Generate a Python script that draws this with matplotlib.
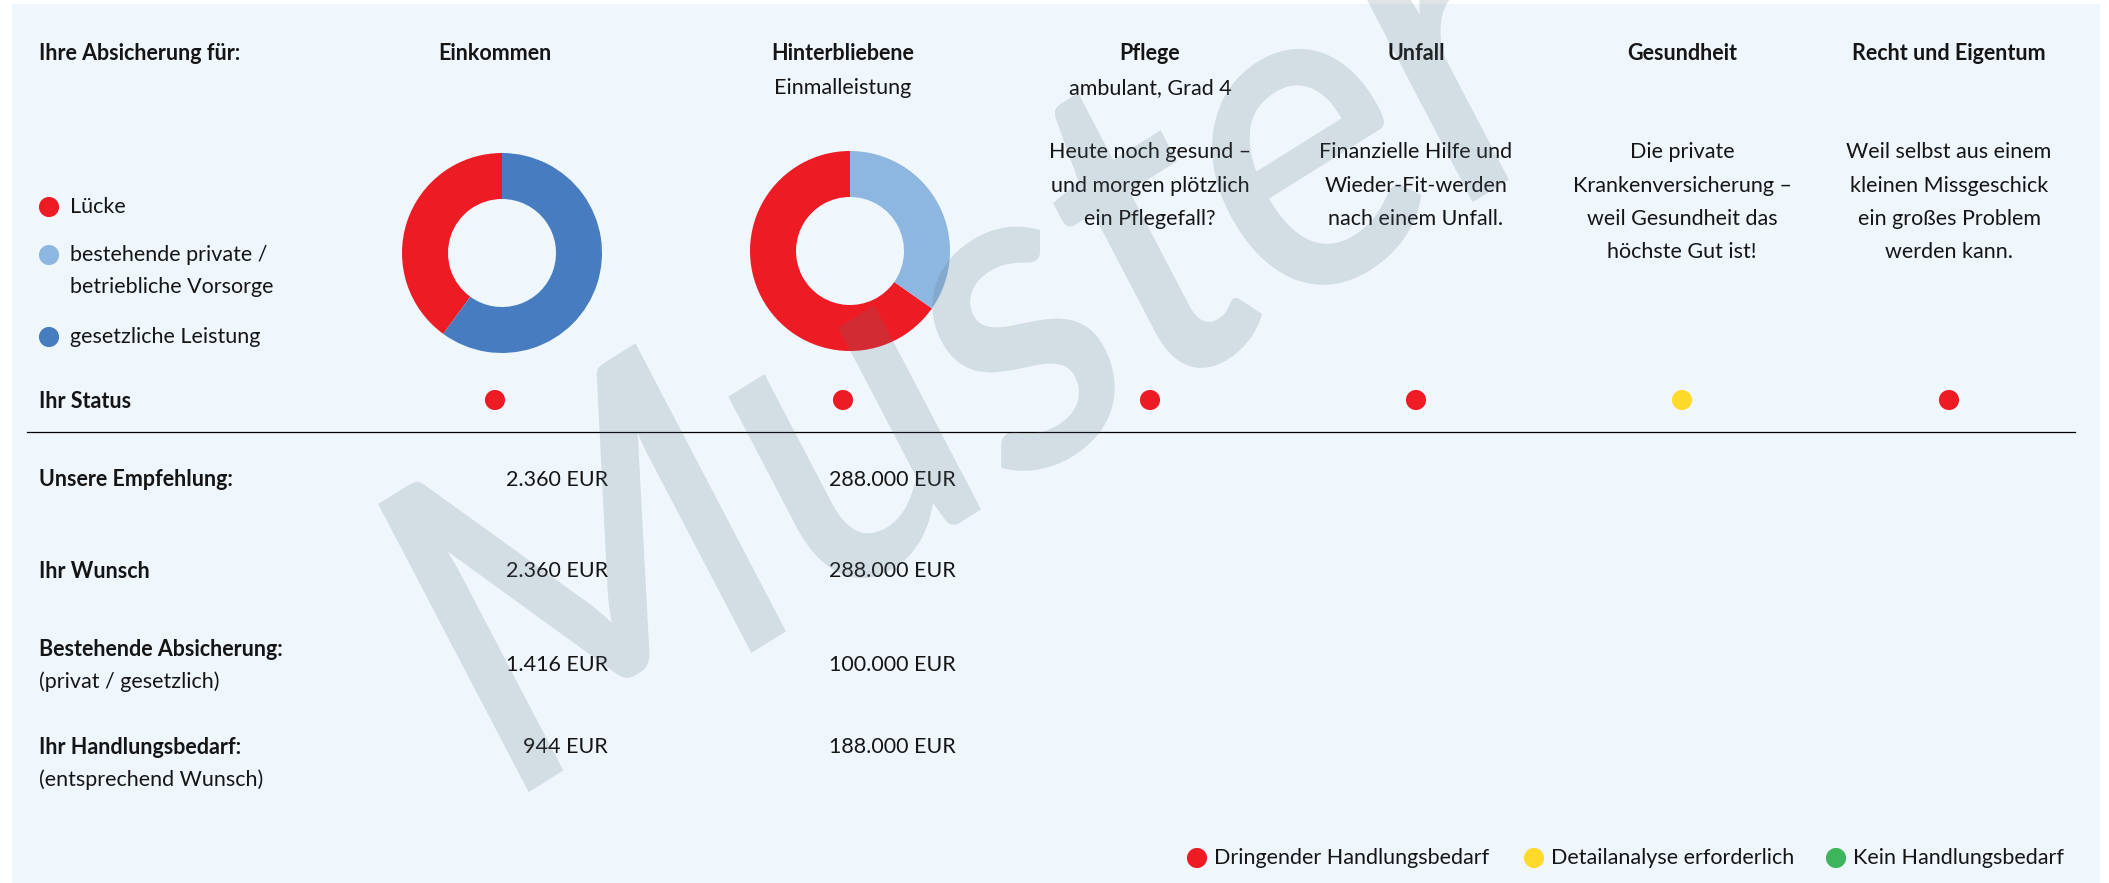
import matplotlib
matplotlib.use("Agg")
import matplotlib.pyplot as plt
from matplotlib.patches import Rectangle, PathPatch
from matplotlib.textpath import TextPath
from matplotlib.font_manager import FontProperties
from matplotlib.transforms import Affine2D

plt.rcParams['font.family'] = ['Lato', 'DejaVu Sans']

W, H = 2109, 883

# ---- data ----
columns = ["Einkommen", "Hinterbliebene", "Pflege", "Unfall", "Gesundheit", "Recht und Eigentum"]
subtitles = ["", "Einmalleistung", "ambulant, Grad 4", "", "", ""]
descriptions = [
    [],
    [],
    ["Heute noch gesund –", "und morgen plötzlich", "ein Pflegefall?"],
    ["Finanzielle Hilfe und", "Wieder-Fit-werden", "nach einem Unfall."],
    ["Die private", "Krankenversicherung –", "weil Gesundheit das", "höchste Gut ist!"],
    ["Weil selbst aus einem", "kleinen Missgeschick", "ein großes Problem", "werden kann."],
]
status = ["dringend", "dringend", "dringend", "dringend", "detail", "dringend"]

row_labels = ["Unsere Empfehlung:", "Ihr Wunsch", "Bestehende Absicherung:", "Ihr Handlungsbedarf:"]
row_sublabels = ["", "", "(privat / gesetzlich)", "(entsprechend Wunsch)"]
einkommen_eur = [2360, 2360, 1416, 944]
hinterbliebene_eur = [288000, 288000, 100000, 188000]

donut_legend = ["Lücke", "bestehende private /\nbetriebliche Vorsorge", "gesetzliche Leistung"]
status_legend = ["Dringender Handlungsbedarf", "Detailanalyse erforderlich", "Kein Handlungsbedarf"]

# ---- colours ----
RED = "#ED1C24"
LIGHTBLUE = "#8DB7E0"
DARKBLUE = "#477DC0"
YELLOW = "#FFDA2B"
GREEN = "#3DB55D"
BG = "#EFF7FD"
TXT = "#151515"
status_col = {"dringend": RED, "detail": YELLOW, "kein": GREEN}

fig = plt.figure(figsize=(W / 100, H / 100), dpi=100, facecolor="white")
ax = fig.add_axes([0, 0, 1, 1])
ax.set_xlim(0, W)
ax.set_ylim(H, 0)
ax.axis("off")
ax.add_patch(Rectangle((12, 4), 2088, 880, facecolor=BG, edgecolor="none", zorder=0))

FS = 15.5
col_x = [495, 843, 1150, 1416, 1682, 1949]

ax.text(39, 53, "Ihre Absicherung für:", fontsize=FS, fontweight="bold", color=TXT, va="center")
for i, name in enumerate(columns):
    ax.text(col_x[i], 53, name, fontsize=FS, fontweight="bold", color=TXT, ha="center", va="center")
    if subtitles[i]:
        ax.text(col_x[i], 88, subtitles[i], fontsize=FS, color=TXT, ha="center", va="center")
    for j, line in enumerate(descriptions[i]):
        ax.text(col_x[i], 152 + j * 33.5, line, fontsize=FS, color=TXT, ha="center", va="center")

# legend for the donuts
leg_cols = [RED, LIGHTBLUE, DARKBLUE]
leg_y = [207, 255, 337]
for lab, c, y in zip(donut_legend, leg_cols, leg_y):
    ax.scatter(49, y, s=210, color=c, edgecolors="none", zorder=3)
    for k, part in enumerate(lab.split("\n")):
        ax.text(70, y + k * 32, part, fontsize=FS, color=TXT, va="center")

# donuts
def donut(cx, cy, r, vals, cols):
    dax = fig.add_axes([(cx - 1.25 * r) / W, (H - cy - 1.25 * r) / H, 2.5 * r / W, 2.5 * r / H])
    dax.pie(vals, colors=cols, startangle=90, counterclock=True,
            wedgeprops=dict(width=0.46, linewidth=0))
    dax.set_xlim(-1.25, 1.25)
    dax.set_ylim(-1.25, 1.25)
    dax.axis("off")

donut(502, 253, 100, [einkommen_eur[3], einkommen_eur[2]], [RED, DARKBLUE])
donut(850, 251, 100, [hinterbliebene_eur[3], hinterbliebene_eur[2]], [RED, LIGHTBLUE])

# status row
ax.text(39, 401, "Ihr Status", fontsize=FS, fontweight="bold", color=TXT, va="center")
for i, st in enumerate(status):
    ax.scatter(col_x[i], 400, s=210, color=status_col[st], edgecolors="none", zorder=3)
ax.plot([27, 2075], [432, 432], color="black", lw=0.9)

# table
def eur(v):
    return f"{v:,}".replace(",", ".") + " EUR"

row_y = [480, 571, 649, 747]
val_y = [480, 571, 665, 747]
for k in range(4):
    ax.text(39, row_y[k], row_labels[k], fontsize=FS, fontweight="bold", color=TXT, va="center")
    if row_sublabels[k]:
        ax.text(39, row_y[k] + 33, row_sublabels[k], fontsize=FS, color=TXT, va="center")
    ax.text(608, val_y[k], eur(einkommen_eur[k]), fontsize=FS, color=TXT, ha="right", va="center")
    ax.text(956, val_y[k], eur(hinterbliebene_eur[k]), fontsize=FS, color=TXT, ha="right", va="center")

# status legend
sl_dot_x = [1197, 1534, 1836]
for lab, c, x in zip(status_legend, [RED, YELLOW, GREEN], sl_dot_x):
    ax.scatter(x, 858, s=210, color=c, edgecolors="none", zorder=3)
    ax.text(x + 17, 858, lab, fontsize=FS, color=TXT, va="center")

# watermark
fp = FontProperties(family="Lato", weight="semibold")
tp = TextPath((0, 0), "Muster", size=450, prop=fp)
tr = Affine2D().skew_deg(5, 0).scale(0.88, 1).rotate_deg(32).translate(500, H - 810)
wm = PathPatch(tp, transform=tr, facecolor=(0.37, 0.43, 0.48), alpha=0.19,
               edgecolor="none", zorder=10)
fig.add_artist(wm)

fig.savefig("out.png", dpi=100, facecolor="white")
